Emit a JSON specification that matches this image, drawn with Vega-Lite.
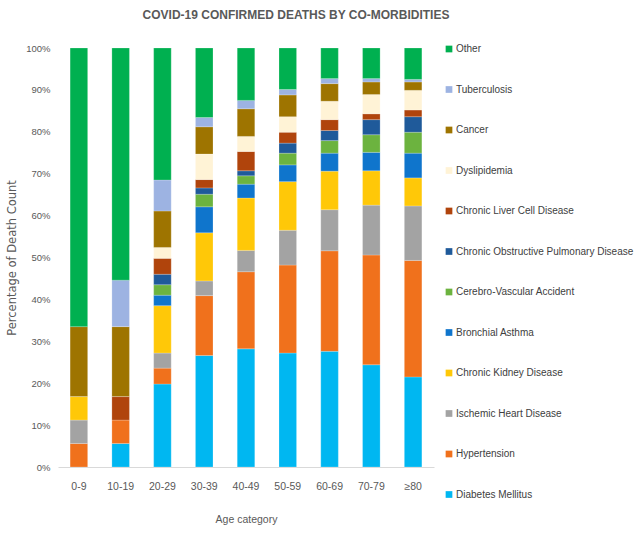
{
  "$schema": "https://vega.github.io/schema/vega-lite/v6.json",
  "autosize": "none",
  "width": 376,
  "height": 419,
  "padding": {"left": 58, "top": 48, "right": 207, "bottom": 66},
  "background": "white",
  "config": {
    "view": {"stroke": null},
    "font": "Liberation Sans, sans-serif"
  },
  "title": {
    "text": "COVID-19 CONFIRMED DEATHS BY CO-MORBIDITIES",
    "font": "Liberation Sans, sans-serif",
    "fontSize": 12,
    "fontWeight": "bold",
    "color": "#595959",
    "anchor": "middle",
    "dx": 50,
    "offset": 21
  },
  "data": {
    "values": [
      {"age": "0-9", "cond": "Hypertension", "pct": 5.6},
      {"age": "0-9", "cond": "Ischemic Heart Disease", "pct": 5.6},
      {"age": "0-9", "cond": "Chronic Kidney Disease", "pct": 5.6},
      {"age": "0-9", "cond": "Cancer", "pct": 16.7},
      {"age": "0-9", "cond": "Other", "pct": 66.5},

      {"age": "10-19", "cond": "Diabetes Mellitus", "pct": 5.6},
      {"age": "10-19", "cond": "Hypertension", "pct": 5.6},
      {"age": "10-19", "cond": "Chronic Liver Cell Disease", "pct": 5.6},
      {"age": "10-19", "cond": "Cancer", "pct": 16.7},
      {"age": "10-19", "cond": "Tuberculosis", "pct": 11.1},
      {"age": "10-19", "cond": "Other", "pct": 55.4},

      {"age": "20-29", "cond": "Diabetes Mellitus", "pct": 19.8},
      {"age": "20-29", "cond": "Hypertension", "pct": 3.8},
      {"age": "20-29", "cond": "Ischemic Heart Disease", "pct": 3.6},
      {"age": "20-29", "cond": "Chronic Kidney Disease", "pct": 11.3},
      {"age": "20-29", "cond": "Bronchial Asthma", "pct": 2.5},
      {"age": "20-29", "cond": "Cerebro-Vascular Accident", "pct": 2.5},
      {"age": "20-29", "cond": "Chronic Obstructive Pulmonary Disease", "pct": 2.5},
      {"age": "20-29", "cond": "Chronic Liver Cell Disease", "pct": 3.8},
      {"age": "20-29", "cond": "Dyslipidemia", "pct": 2.6},
      {"age": "20-29", "cond": "Cancer", "pct": 8.7},
      {"age": "20-29", "cond": "Tuberculosis", "pct": 7.4},
      {"age": "20-29", "cond": "Other", "pct": 31.5},

      {"age": "30-39", "cond": "Diabetes Mellitus", "pct": 26.6},
      {"age": "30-39", "cond": "Hypertension", "pct": 14.3},
      {"age": "30-39", "cond": "Ischemic Heart Disease", "pct": 3.5},
      {"age": "30-39", "cond": "Chronic Kidney Disease", "pct": 11.5},
      {"age": "30-39", "cond": "Bronchial Asthma", "pct": 6.2},
      {"age": "30-39", "cond": "Cerebro-Vascular Accident", "pct": 3.0},
      {"age": "30-39", "cond": "Chronic Obstructive Pulmonary Disease", "pct": 1.5},
      {"age": "30-39", "cond": "Chronic Liver Cell Disease", "pct": 2.0},
      {"age": "30-39", "cond": "Dyslipidemia", "pct": 6.1},
      {"age": "30-39", "cond": "Cancer", "pct": 6.5},
      {"age": "30-39", "cond": "Tuberculosis", "pct": 2.2},
      {"age": "30-39", "cond": "Other", "pct": 16.6},

      {"age": "40-49", "cond": "Diabetes Mellitus", "pct": 28.2},
      {"age": "40-49", "cond": "Hypertension", "pct": 18.4},
      {"age": "40-49", "cond": "Ischemic Heart Disease", "pct": 5.1},
      {"age": "40-49", "cond": "Chronic Kidney Disease", "pct": 12.5},
      {"age": "40-49", "cond": "Bronchial Asthma", "pct": 3.3},
      {"age": "40-49", "cond": "Cerebro-Vascular Accident", "pct": 2.0},
      {"age": "40-49", "cond": "Chronic Obstructive Pulmonary Disease", "pct": 1.2},
      {"age": "40-49", "cond": "Chronic Liver Cell Disease", "pct": 4.6},
      {"age": "40-49", "cond": "Dyslipidemia", "pct": 3.6},
      {"age": "40-49", "cond": "Cancer", "pct": 6.6},
      {"age": "40-49", "cond": "Tuberculosis", "pct": 2.0},
      {"age": "40-49", "cond": "Other", "pct": 12.5},

      {"age": "50-59", "cond": "Diabetes Mellitus", "pct": 27.2},
      {"age": "50-59", "cond": "Hypertension", "pct": 21.0},
      {"age": "50-59", "cond": "Ischemic Heart Disease", "pct": 8.3},
      {"age": "50-59", "cond": "Chronic Kidney Disease", "pct": 11.6},
      {"age": "50-59", "cond": "Bronchial Asthma", "pct": 4.0},
      {"age": "50-59", "cond": "Cerebro-Vascular Accident", "pct": 2.8},
      {"age": "50-59", "cond": "Chronic Obstructive Pulmonary Disease", "pct": 2.4},
      {"age": "50-59", "cond": "Chronic Liver Cell Disease", "pct": 2.6},
      {"age": "50-59", "cond": "Dyslipidemia", "pct": 3.7},
      {"age": "50-59", "cond": "Cancer", "pct": 5.2},
      {"age": "50-59", "cond": "Tuberculosis", "pct": 1.3},
      {"age": "50-59", "cond": "Other", "pct": 9.9},

      {"age": "60-69", "cond": "Diabetes Mellitus", "pct": 27.6},
      {"age": "60-69", "cond": "Hypertension", "pct": 24.0},
      {"age": "60-69", "cond": "Ischemic Heart Disease", "pct": 9.8},
      {"age": "60-69", "cond": "Chronic Kidney Disease", "pct": 9.2},
      {"age": "60-69", "cond": "Bronchial Asthma", "pct": 4.3},
      {"age": "60-69", "cond": "Cerebro-Vascular Accident", "pct": 3.0},
      {"age": "60-69", "cond": "Chronic Obstructive Pulmonary Disease", "pct": 2.4},
      {"age": "60-69", "cond": "Chronic Liver Cell Disease", "pct": 2.6},
      {"age": "60-69", "cond": "Dyslipidemia", "pct": 4.4},
      {"age": "60-69", "cond": "Cancer", "pct": 4.2},
      {"age": "60-69", "cond": "Tuberculosis", "pct": 1.2},
      {"age": "60-69", "cond": "Other", "pct": 7.3},

      {"age": "70-79", "cond": "Diabetes Mellitus", "pct": 24.4},
      {"age": "70-79", "cond": "Hypertension", "pct": 26.2},
      {"age": "70-79", "cond": "Ischemic Heart Disease", "pct": 11.9},
      {"age": "70-79", "cond": "Chronic Kidney Disease", "pct": 8.2},
      {"age": "70-79", "cond": "Bronchial Asthma", "pct": 4.4},
      {"age": "70-79", "cond": "Cerebro-Vascular Accident", "pct": 4.2},
      {"age": "70-79", "cond": "Chronic Obstructive Pulmonary Disease", "pct": 3.6},
      {"age": "70-79", "cond": "Chronic Liver Cell Disease", "pct": 1.4},
      {"age": "70-79", "cond": "Dyslipidemia", "pct": 4.6},
      {"age": "70-79", "cond": "Cancer", "pct": 3.0},
      {"age": "70-79", "cond": "Tuberculosis", "pct": 0.8},
      {"age": "70-79", "cond": "Other", "pct": 7.3},

      {"age": "≥80", "cond": "Diabetes Mellitus", "pct": 21.5},
      {"age": "≥80", "cond": "Hypertension", "pct": 27.8},
      {"age": "≥80", "cond": "Ischemic Heart Disease", "pct": 13.0},
      {"age": "≥80", "cond": "Chronic Kidney Disease", "pct": 6.7},
      {"age": "≥80", "cond": "Bronchial Asthma", "pct": 5.9},
      {"age": "≥80", "cond": "Cerebro-Vascular Accident", "pct": 5.0},
      {"age": "≥80", "cond": "Chronic Obstructive Pulmonary Disease", "pct": 3.7},
      {"age": "≥80", "cond": "Chronic Liver Cell Disease", "pct": 1.6},
      {"age": "≥80", "cond": "Dyslipidemia", "pct": 4.7},
      {"age": "≥80", "cond": "Cancer", "pct": 2.0},
      {"age": "≥80", "cond": "Tuberculosis", "pct": 0.6},
      {"age": "≥80", "cond": "Other", "pct": 7.5}
    ]
  },
  "transform": [
    {
      "calculate": "indexof(['Diabetes Mellitus','Hypertension','Ischemic Heart Disease','Chronic Kidney Disease','Bronchial Asthma','Cerebro-Vascular Accident','Chronic Obstructive Pulmonary Disease','Chronic Liver Cell Disease','Dyslipidemia','Cancer','Tuberculosis','Other'], datum.cond)",
      "as": "stackOrder"
    }
  ],
  "mark": {"type": "bar", "stroke": "#ffffff", "strokeOpacity": 0.35, "strokeWidth": 0.6},
  "encoding": {
    "x": {
      "field": "age",
      "type": "nominal",
      "sort": ["0-9", "10-19", "20-29", "30-39", "40-49", "50-59", "60-69", "70-79", "≥80"],
      "scale": {"paddingInner": 0.58, "paddingOuter": 0.29},
      "axis": {
        "title": "Age category",
        "titleFont": "Liberation Sans, sans-serif",
        "titleFontSize": 10.5,
        "titleFontWeight": "normal",
        "titleColor": "#595959",
        "titlePadding": 23,
        "labelAngle": 0,
        "labelFontSize": 10.5,
        "labelColor": "#595959",
        "labelPadding": 14,
        "ticks": false,
        "domainColor": "#d9d9d9",
        "domainWidth": 1
      }
    },
    "y": {
      "field": "pct",
      "type": "quantitative",
      "stack": "normalize",
      "scale": {"domain": [0, 1]},
      "axis": {
        "title": "Percentage  of Death Count",
        "titleFont": "DejaVu Sans, sans-serif",
        "titleFontSize": 11.5,
        "titleFontWeight": "normal",
        "titleColor": "#595959",
        "titlePadding": 8,
        "values": [0, 0.1, 0.2, 0.3, 0.4, 0.5, 0.6, 0.7, 0.8, 0.9, 1],
        "format": ".0%",
        "labelFontSize": 9.5,
        "labelColor": "#595959",
        "labelPadding": 8,
        "ticks": false,
        "domain": false,
        "grid": false
      }
    },
    "order": {"field": "stackOrder", "type": "quantitative", "sort": "ascending"},
    "color": {
      "field": "cond",
      "type": "nominal",
      "scale": {
        "domain": ["Other", "Tuberculosis", "Cancer", "Dyslipidemia", "Chronic Liver Cell Disease", "Chronic Obstructive Pulmonary Disease", "Cerebro-Vascular Accident", "Bronchial Asthma", "Chronic Kidney Disease", "Ischemic Heart Disease", "Hypertension", "Diabetes Mellitus"],
        "range": ["#00b050", "#9db3e2", "#9e7400", "#fff3d6", "#b0440c", "#1f5a9a", "#6cb33f", "#0f75cc", "#ffc808", "#a3a3a3", "#f0711c", "#00b7f1"]
      },
      "legend": {
        "title": null,
        "orient": "none",
        "legendX": 386,
        "legendY": -4,
        "symbolType": "square",
        "symbolSize": 45,
        "symbolStrokeWidth": 0,
        "labelFont": "Liberation Sans, sans-serif",
        "labelFontSize": 10,
        "labelColor": "#404040",
        "labelOffset": 2,
        "rowPadding": 30.5,
        "labelLimit": 250
      }
    }
  }
}
